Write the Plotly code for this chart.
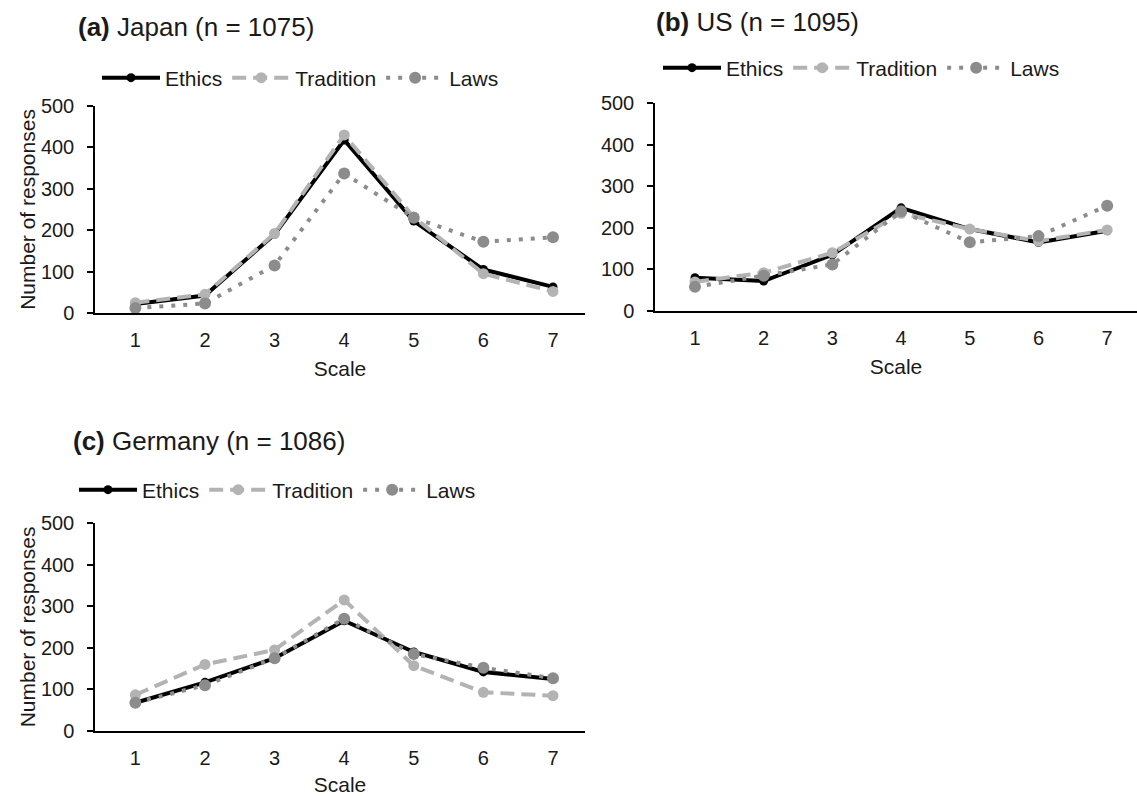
import plotly.graph_objects as go

scale = [1, 2, 3, 4, 5, 6, 7]
tick_labels = ["1", "2", "3", "4", "5", "6", "7"]
series_names = ["Ethics", "Tradition", "Laws"]

japan_ethics = [22, 42, 190, 418, 222, 105, 63]
japan_tradition = [25, 45, 192, 430, 232, 95, 52]
japan_laws = [12, 23, 115, 337, 230, 172, 183]

us_ethics = [80, 72, 135, 248, 197, 165, 193]
us_tradition = [70, 92, 140, 235, 197, 168, 195]
us_laws = [58, 85, 112, 240, 165, 180, 253]

germany_ethics = [68, 117, 175, 265, 190, 142, 125]
germany_tradition = [87, 160, 195, 315, 157, 93, 85]
germany_laws = [68, 110, 175, 270, 185, 152, 127]

W, H = 1137, 796
FONT = "Liberation Sans, Arial, sans-serif"
TXT = "#1a1a1a"

styles = {
    "Ethics": dict(line=dict(color="#000000", width=4, dash="solid"),
                   marker=dict(color="#000000", size=9)),
    "Tradition": dict(line=dict(color="#b3b3b3", width=4, dash="14px,7px"),
                      marker=dict(color="#b3b3b3", size=11)),
    "Laws": dict(line=dict(color="#8c8c8c", width=4, dash="4px,8px"),
                 marker=dict(color="#8c8c8c", size=12)),
}

panels = [
    ("x", "y", "legend", [japan_ethics, japan_tradition, japan_laws]),
    ("x2", "y2", "legend2", [us_ethics, us_tradition, us_laws]),
    ("x3", "y3", "legend3", [germany_ethics, germany_tradition, germany_laws]),
]

fig = go.Figure()
for xa, ya, lg, data in panels:
    for name, vals in zip(series_names, data):
        st = styles[name]
        fig.add_trace(go.Scatter(
            x=scale, y=vals, name=name, mode="lines+markers",
            xaxis=xa, yaxis=ya, legend=lg,
            line=st["line"], marker=st["marker"],
        ))

def px_x(p):
    return p / W

def px_y(p):
    return 1 - p / H

TICKF = dict(family=FONT, size=20, color=TXT)
TITLEF = dict(family=FONT, size=21, color=TXT)

x_common = dict(showgrid=False, zeroline=False, showline=True, linecolor="#000000",
                linewidth=1.5, ticks="", tickfont=TICKF, ticklabelstandoff=8,
                tickvals=scale, ticktext=tick_labels, automargin=False)
y_common = dict(showgrid=False, zeroline=False, showline=True, linecolor="#000000",
                linewidth=1.5, ticks="outside", ticklen=6, tickwidth=1.5, tickcolor="#000000",
                tickfont=TICKF, ticklabelstandoff=9, range=[0, 500], dtick=100, automargin=False)

xr = [0.42, 7.46]
fig.update_layout(
    width=W, height=H, margin=dict(l=0, r=0, t=0, b=0, autoexpand=False),
    plot_bgcolor="white", paper_bgcolor="white",
    font=dict(family=FONT, color=TXT),
    xaxis=dict(domain=[px_x(95), px_x(585)], range=xr, anchor="y",
               title=dict(text="Scale", font=TITLEF, standoff=12), **x_common),
    yaxis=dict(domain=[px_y(313), px_y(106)], anchor="x",
               title=dict(text="Number of responses", font=TITLEF, standoff=0), **y_common),
    xaxis2=dict(domain=[px_x(655), 1.0], range=[0.418, 7.434], anchor="y2",
                title=dict(text="Scale", font=TITLEF, standoff=12), **x_common),
    yaxis2=dict(domain=[px_y(311), px_y(103)], anchor="x2", **y_common),
    xaxis3=dict(domain=[px_x(95), px_x(585)], range=xr, anchor="y3",
                title=dict(text="Scale", font=TITLEF, standoff=12), **x_common),
    yaxis3=dict(domain=[px_y(731), px_y(523)], anchor="x3",
                title=dict(text="Number of responses", font=TITLEF, standoff=0), **y_common),
)

legend_common = dict(orientation="h", xanchor="left", yanchor="middle", bgcolor="rgba(0,0,0,0)",
                     font=dict(family=FONT, size=21, color=TXT), itemwidth=58, tracegroupgap=0)
fig.update_layout(
    legend=dict(x=px_x(97), y=px_y(78), **legend_common),
    legend2=dict(x=px_x(658), y=px_y(68), **legend_common),
    legend3=dict(x=px_x(74), y=px_y(490), **legend_common),
)

titles = [
    ("<b>(a)</b> Japan (n = 1075)", 76, 27),
    ("<b>(b)</b> US (n = 1095)", 654, 22),
    ("<b>(c)</b> Germany (n = 1086)", 71, 441),
]
for text, x0, y0 in titles:
    fig.add_annotation(text=text, xref="paper", yref="paper", x=px_x(x0), y=px_y(y0),
                       xanchor="left", yanchor="middle", showarrow=False,
                       font=dict(family=FONT, size=26, color=TXT))

fig.write_html("out.html")
